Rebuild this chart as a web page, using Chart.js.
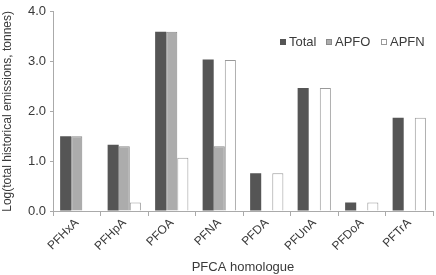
<!DOCTYPE html>
<html><head><meta charset="utf-8">
<script src="https://cdn.jsdelivr.net/npm/chart.js@4"></script>
<style>html,body{margin:0;padding:0;background:#fff}#w{width:436px;height:275px}</style>
</head><body><div id="w"><canvas id="c"></canvas></div>
<script>
const categories = ["PFHxA","PFHpA","PFOA","PFNA","PFDA","PFUnA","PFDoA","PFTrA"];
const totalValues = [1.50, 1.33, 3.60, 3.04, 0.76, 2.47, 0.17, 1.87];
const apfoValues  = [1.50, 1.30, 3.60, 1.30, null, null, null, null];
const apfnValues  = [null, 0.17, 1.07, 3.03, 0.76, 2.47, 0.17, 1.87];
const yTicks = [0, 1, 2, 3, 4];

const FONT = "'Liberation Sans', Arial, Helvetica, sans-serif";
const TXT = '#3a3a3a';

const legendPlugin = {
  id: 'customLegend',
  afterDraw(chart) {
    const ctx = chart.ctx;
    const items = chart.data.datasets;
    const xs = [280, 326, 381];
    const y = 42;
    ctx.save();
    ctx.font = "13px " + FONT;
    ctx.textBaseline = 'middle';
    items.forEach((ds, i) => {
      const x = xs[i];
      ctx.fillStyle = ds.backgroundColor;
      ctx.fillRect(x, y - 3, 6, 6);
      if (ds.borderWidth) {
        ctx.strokeStyle = ds.borderColor;
        ctx.lineWidth = 1;
        ctx.strokeRect(x + 0.5, y - 2.5, 5, 5);
      }
      ctx.fillStyle = TXT;
      ctx.fillText(ds.label, x + 9, y + 0.5);
    });
    ctx.restore();
  }
};

new Chart(document.getElementById('c'), {
  type: 'bar',
  data: {
    labels: categories,
    datasets: [
      {label: 'Total', data: totalValues, backgroundColor: '#555555', borderColor: '#555555', borderWidth: 0},
      {label: 'APFO', data: apfoValues, backgroundColor: '#acacac', borderColor: '#8a8a8a', borderWidth: 1, borderSkipped: 'bottom'},
      {label: 'APFN', data: apfnValues, backgroundColor: '#ffffff', borderColor: '#999999', borderWidth: 1, borderSkipped: 'bottom'}
    ]
  },
  plugins: [legendPlugin],
  options: {
    responsive: true,
    maintainAspectRatio: false,
    animation: false,
    layout: {padding: {top: 5, right: 3, left: 0, bottom: 0}},
    plugins: {legend: {display: false}, tooltip: {enabled: false}},
    datasets: {bar: {categoryPercentage: 0.7, barPercentage: 1.0}},
    scales: {
      x: {
        offset: true,
        grid: {display: true, drawOnChartArea: false, drawTicks: true, tickLength: 5, offset: true, color: '#aaa'},
        border: {color: '#aaa', width: 1},
        ticks: {minRotation: 45, maxRotation: 45, color: TXT, font: {family: FONT, size: 12}, padding: 0},
        title: {display: true, text: 'PFCA homologue', color: TXT, font: {family: FONT, size: 13}, padding: {top: 0, bottom: 0}},
        afterFit(s) { s.height = 64; }
      },
      y: {
        min: 0, max: 4,
        afterBuildTicks(s) { s.ticks = yTicks.map(v => ({value: v})); },
        grid: {display: true, drawOnChartArea: false, drawTicks: true, tickLength: 3, color: '#aaa'},
        border: {color: '#aaa', width: 1},
        ticks: {color: TXT, font: {family: FONT, size: 13}, padding: 4, callback: v => v.toFixed(1)},
        title: {display: true, text: 'Log(total historical emissions, tonnes)', color: TXT, font: {family: FONT, size: 12}, padding: {top: 0, bottom: 2}},
        afterFit(s) { s.width = 53; }
      }
    }
  }
});
</script></body></html>
